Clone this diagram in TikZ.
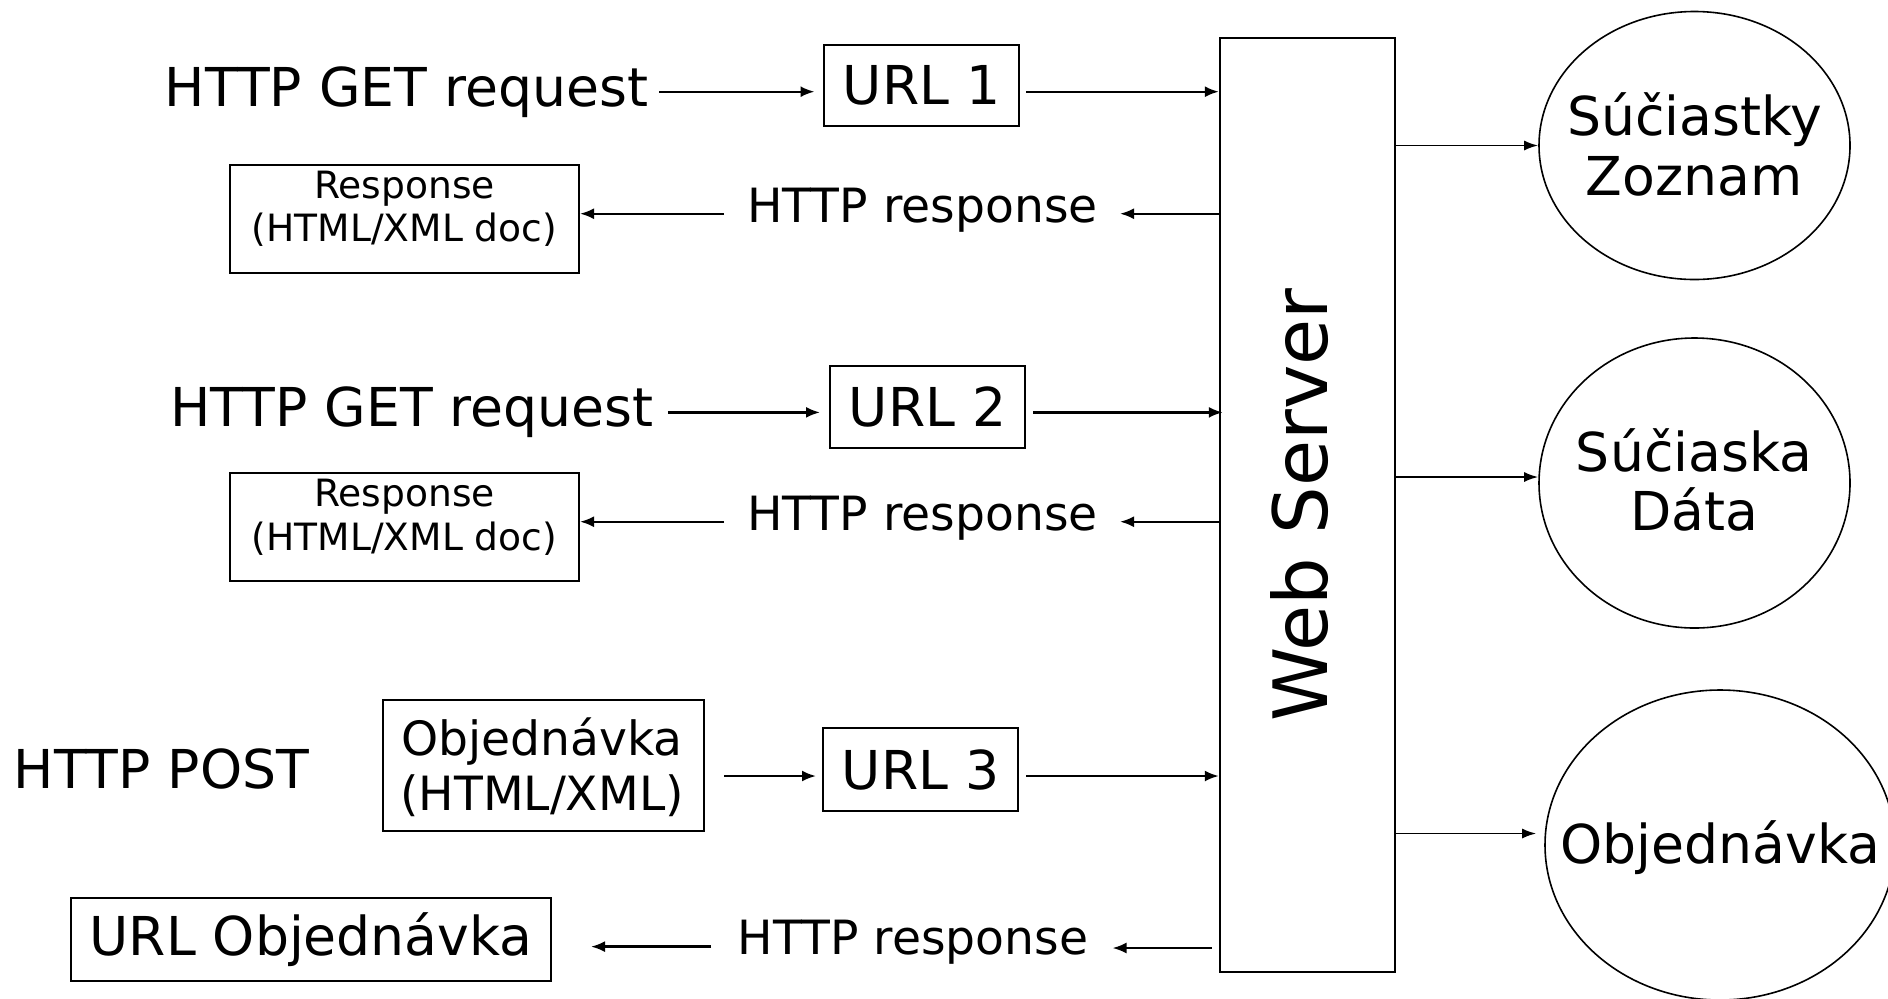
\documentclass[tikz,border=0pt]{standalone}
\usepackage{fontspec}
\setmainfont{DejaVu Sans}
\usetikzlibrary{arrows.meta,shapes.geometric}
\begin{document}
\begin{tikzpicture}[x=0.5pt,y=-0.5pt,
  bx/.style={draw,line width=1pt,inner sep=0pt},
  big/.style={font=\fontsize{26.8pt}{32pt}\selectfont},
  med/.style={font=\fontsize{23.6pt}{28pt}\selectfont},
  sml/.style={font=\fontsize{18.8pt}{22pt}\selectfont},
  txt/.style={inner sep=0pt,anchor=base},
  arr/.style={-{Latex[length=7pt,width=5.5pt]},line width=1.15pt},
  arrb/.style={-{Latex[length=7pt,width=5pt]},line width=0.95pt},
  ell/.style={draw,ellipse,line width=0.8pt,inner sep=0pt}]
\useasboundingbox (0,0) rectangle (1888,998);

% web server
\node[draw,line width=1.2pt,minimum width=87.5pt,minimum height=467pt,inner sep=0pt] (server) at (1307.5,505) {};
\node[txt,rotate=90,font=\fontsize{37.5pt}{45pt}\selectfont] (servertxt) at (1327,505) {Web Server};

% row 1
\node[txt,big] (req1) at (406.5,106) {HTTP GET request};
\node[bx,big,minimum width=97.5pt,minimum height=40.5pt] (url1) at (921.5,85.5) {URL 1};
\node[txt,med] (hr1) at (922.5,222) {HTTP response};
\node[bx,minimum width=174.5pt,minimum height=54pt] (resp1) at (404.5,219) {};
\node[txt,sml] (resp1a) at (404.5,198.3) {Response};
\node[txt,sml] (resp1b) at (404.5,241.7) {(HTML/XML doc)};

% row 2
\node[txt,big] (req2) at (412,426.7) {HTTP GET request};
\node[bx,big,minimum width=97.5pt,minimum height=41pt] (url2) at (927.5,407) {URL 2};
\node[txt,med] (hr2) at (922.5,530) {HTTP response};
\node[bx,minimum width=174.5pt,minimum height=54pt] (resp2) at (404.5,527) {};
\node[txt,sml] (resp2a) at (404.5,506.7) {Response};
\node[txt,sml] (resp2b) at (404.5,550) {(HTML/XML doc)};

% row 3
\node[txt,big] (post) at (161.5,788.3) {HTTP POST};
\node[bx,minimum width=160.5pt,minimum height=65.5pt] (ord) at (543.5,765.5) {};
\node[txt,med] (orda) at (542,755) {Objednávka};
\node[txt,med] (ordb) at (542,810) {(HTML/XML)};
\node[bx,big,minimum width=97.5pt,minimum height=41.5pt] (url3) at (920.5,769.5) {URL 3};

% row 4
\node[bx,big,minimum width=240pt,minimum height=41.5pt] (urlord) at (311,939.5) {URL Objednávka};
\node[txt,med] (hr3) at (913,954.3) {HTTP response};

% ellipses
\node[ell,minimum width=155.5pt,minimum height=134pt] (e1) at (1694.5,145.5) {};
\node[txt,big] (e1a) at (1694.5,135) {Súčiastky};
\node[txt,big] (e1b) at (1694,195) {Zoznam};
\node[ell,minimum width=155.5pt,minimum height=145pt] (e2) at (1694.5,483) {};
\node[txt,big] (e2a) at (1694,471) {Súčiaska};
\node[txt,big] (e2b) at (1694,530) {Dáta};
\node[ell,minimum width=175pt,minimum height=155pt] (e3) at (1720,845) {};
\node[txt,big] (e3a) at (1720.5,863) {Objednávka};

% row 1 connectors
\draw[arr,shorten >=4.25pt] ([xshift=5.5pt]req1.east) -- (url1.west |- req1.east);
\draw[arr] ([xshift=3pt]url1.east |- req1.east) -- (server.west |- req1.east);
\draw[arr] ([yshift=-2pt]server.west |- hr1.east) -- ([shift={(11pt,-2pt)}]hr1.east);
\draw[arr] ([shift={(-11.5pt,-2pt)}]hr1.west) -- ([yshift=-2pt]resp1.east |- hr1.west);

% row 2 connectors
\draw[arr,shorten >=4.5pt] ([xshift=7pt]req2.east) -- (url2.west |- req2.east);
\draw[arr] ([xshift=3.5pt]url2.east |- req2.east) -- ([xshift=2pt]server.west |- req2.east);
\draw[arr] ([yshift=-2pt]server.west |- hr2.east) -- ([shift={(11pt,-2pt)}]hr2.east);
\draw[arr] ([shift={(-11.5pt,-2pt)}]hr2.west) -- ([yshift=-2pt]resp2.east |- hr2.west);

% row 3 connectors
\draw[arr,shorten >=3pt] ([shift={(9.5pt,-3.25pt)}]ord.east |- url3.east) -- ([yshift=-3.25pt]url3.west);
\draw[arr] ([shift={(3.5pt,-3.25pt)}]url3.east) -- ([yshift=-3.25pt]server.west |- url3.east);

% row 4 connectors
\draw[arr] ([shift={(-3.5pt,-3pt)}]server.west |- hr3.east) -- ([shift={(12pt,-3pt)}]hr3.east);
\draw[arr] ([shift={(-13.25pt,-2.3pt)}]hr3.west) -- ([shift={(19.5pt,-2.3pt)}]urlord.east |- hr3.west);

% server to data
\draw[arrb] (server.east |- e1.west) -- (e1.west);
\draw[arrb] ([yshift=3pt]server.east |- e2.west) -- ([yshift=3pt]e2.west);
\draw[arrb] ([yshift=5.75pt]server.east |- e3.west) -- ([shift={(-4pt,5.75pt)}]e3.west);
\end{tikzpicture}
\end{document}
